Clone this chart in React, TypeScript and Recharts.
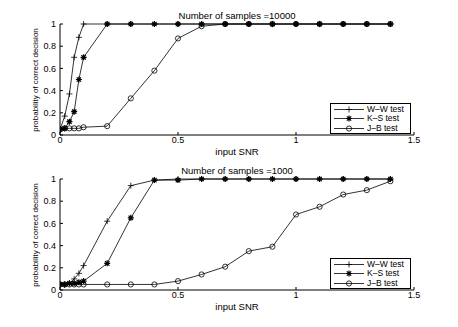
import { LineChart, Line, XAxis, YAxis } from "recharts";

const snr = [0, 0.02, 0.04, 0.06, 0.08, 0.1, 0.2, 0.3, 0.4, 0.5, 0.6, 0.7, 0.8, 0.9, 1.0, 1.1, 1.2, 1.3, 1.4];

// samples = 10000
const ww10000 = [0.05, 0.17, 0.37, 0.7, 0.88, 1, 1, 1, 1, 1, 1, 1, 1, 1, 1, 1, 1, 1, 1];
const ks10000 = [0.05, 0.06, 0.12, 0.21, 0.5, 0.7, 1, 1, 1, 1, 1, 1, 1, 1, 1, 1, 1, 1, 1];
const jb10000 = [0.05, 0.06, 0.06, 0.06, 0.06, 0.07, 0.08, 0.33, 0.58, 0.87, 0.98, 1, 1, 1, 1, 1, 1, 1, 1];

// samples = 1000
const ww1000 = [0.05, 0.05, 0.06, 0.1, 0.15, 0.22, 0.62, 0.94, 0.99, 1, 1, 1, 1, 1, 1, 1, 1, 1, 1];
const ks1000 = [0.05, 0.05, 0.06, 0.06, 0.07, 0.08, 0.24, 0.65, 0.99, 0.99, 1, 1, 1, 1, 1, 1, 1, 1, 1];
const jb1000 = [0.05, 0.05, 0.05, 0.05, 0.05, 0.05, 0.05, 0.05, 0.05, 0.08, 0.14, 0.21, 0.35, 0.39, 0.68, 0.75, 0.86, 0.9, 0.98];

const xTicks = [0, 0.5, 1, 1.5];
const yTicks = [0, 0.2, 0.4, 0.6, 0.8, 1];
const legendNames = ["W\u2013W test", "K\u2013S test", "J\u2013B test"];

const FONT = '"Liberation Sans", Arial, sans-serif';

const build = (ww: number[], ks: number[], jb: number[]) =>
  snr.map((x, i) => ({ x, ww: ww[i], ks: ks[i], jb: jb[i] }));

const plusDot = (p: any) => {
  const { cx, cy, key } = p;
  return (
    <path key={key} d={`M${cx - 3},${cy}h6M${cx},${cy - 3}v6`} stroke="#000" strokeWidth={0.8} fill="none" />
  );
};

const starDot = (p: any) => {
  const { cx, cy, key } = p;
  return (
    <path
      key={key}
      d={`M${cx - 3},${cy}h6M${cx},${cy - 3}v6M${cx - 2.2},${cy - 2.2}l4.4,4.4M${cx - 2.2},${cy + 2.2}l4.4,-4.4`}
      stroke="#000"
      strokeWidth={1.2}
      fill="none"
    />
  );
};

const circleDot = (p: any) => {
  const { cx, cy, key } = p;
  return <circle key={key} cx={cx} cy={cy} r={2.6} stroke="#000" strokeWidth={0.8} fill="none" />;
};

const markers = [plusDot, starDot, circleDot];

const Legend = ({ top }: { top: number }) => (
  <div
    style={{
      position: "absolute",
      left: 330,
      top,
      width: 79,
      height: 29,
      border: "1px solid #000",
      background: "#fff",
      fontFamily: FONT,
      fontSize: 8.5,
    }}
  >
    {legendNames.map((name, i) => (
      <div key={name} style={{ position: "absolute", left: 2, top: 1 + i * 9.3, height: 9, display: "flex", alignItems: "center" }}>
        <svg width={32} height={9}>
          <line x1={1} y1={4.5} x2={31} y2={4.5} stroke="#000" strokeWidth={0.8} />
          {markers[i]({ cx: 16, cy: 4.5, key: "m" })}
        </svg>
        <span style={{ marginLeft: 2, lineHeight: "9px" }}>{name}</span>
      </div>
    ))}
  </div>
);

const Panel = ({ top, title, data }: { top: number; title: string; data: any[] }) => (
  <div style={{ position: "absolute", left: 0, top, width: 458, height: 163 }}>
    <LineChart width={458} height={162} data={data} margin={{ top: 24, right: 44, bottom: 0, left: 0 }}>
      <XAxis
        dataKey="x"
        type="number"
        domain={[0, 1.5]}
        ticks={xTicks}
        height={27}
        tickSize={-3}
        tickMargin={5}
        axisLine={{ stroke: "#000" }}
        tickLine={{ stroke: "#000" }}
        tick={{ fill: "#000", fontSize: 9, fontFamily: FONT }}
        allowDataOverflow
      />
      <XAxis
        xAxisId="top"
        orientation="top"
        dataKey="x"
        type="number"
        domain={[0, 1.5]}
        ticks={xTicks}
        height={0}
        tickSize={-3}
        tick={false}
        axisLine={{ stroke: "#000" }}
        tickLine={{ stroke: "#000" }}
      />
      <YAxis
        domain={[0, 1]}
        ticks={yTicks}
        width={60}
        tickSize={-3}
        tickMargin={7}
        axisLine={{ stroke: "#000" }}
        tickLine={{ stroke: "#000" }}
        tick={{ fill: "#000", fontSize: 9, fontFamily: FONT }}
      />
      <YAxis
        yAxisId="right"
        orientation="right"
        domain={[0, 1]}
        ticks={yTicks}
        width={0}
        tickSize={-3}
        tick={false}
        axisLine={{ stroke: "#000" }}
        tickLine={{ stroke: "#000" }}
      />
      <Line dataKey="ww" stroke="#000" strokeWidth={0.8} dot={plusDot} isAnimationActive={false} />
      <Line dataKey="ks" stroke="#000" strokeWidth={0.8} dot={starDot} isAnimationActive={false} />
      <Line dataKey="jb" stroke="#000" strokeWidth={0.8} dot={circleDot} isAnimationActive={false} />
    </LineChart>
    <div style={{ position: "absolute", left: 0, width: 474, top: 10, textAlign: "center", fontFamily: FONT, fontSize: 9.5 }}>
      {title}
    </div>
    <div style={{ position: "absolute", left: 0, width: 474, top: 146, textAlign: "center", fontFamily: FONT, fontSize: 9.5 }}>
      input SNR
    </div>
    <div
      style={{
        position: "absolute",
        left: 35,
        top: 80,
        width: 0,
        height: 0,
        overflow: "visible",
      }}
    >
      <div
        style={{
          position: "absolute",
          transform: "translate(-50%, -50%) rotate(-90deg)",
          whiteSpace: "nowrap",
          fontFamily: FONT,
          fontSize: 8,
        }}
      >
        probability of correct decision
      </div>
    </div>
  </div>
);

export default function App() {
  return (
    <div style={{ position: "absolute", left: 0, top: 0, width: 458, height: 327, background: "#fff", overflow: "hidden" }}>
      <Panel top={0} title="Number of samples =10000" data={build(ww10000, ks10000, jb10000)} />
      <Panel top={155} title="Number of samples =1000" data={build(ww1000, ks1000, jb1000)} />
      <Legend top={103} />
      <Legend top={258} />
    </div>
  );
}
